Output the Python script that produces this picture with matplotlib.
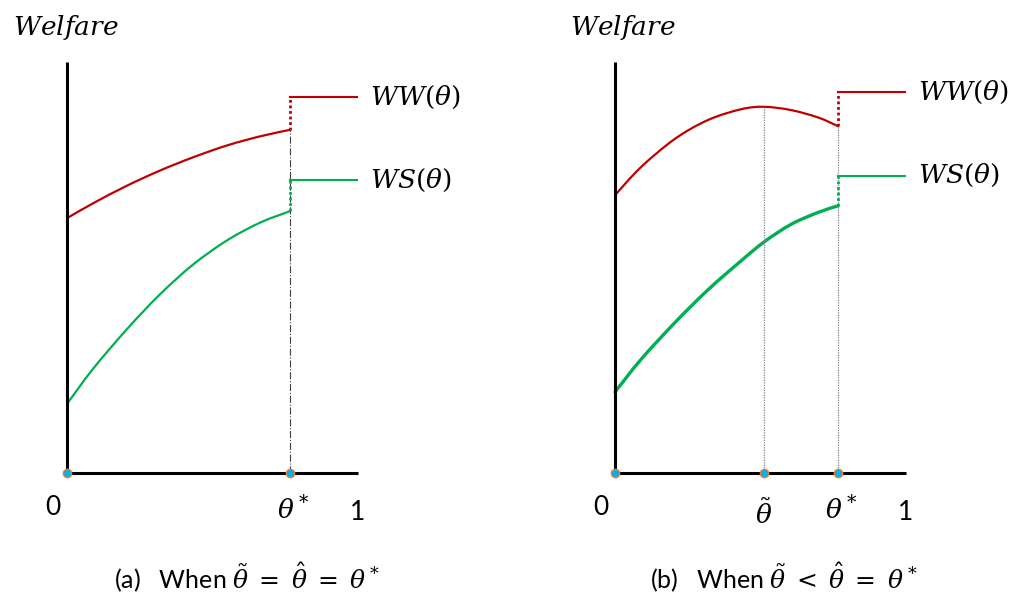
import matplotlib

matplotlib.use("Agg")
import matplotlib.pyplot as plt
from matplotlib.path import Path
from matplotlib.patches import PathPatch

plt.rcParams["font.family"] = ["Lato", "DejaVu Sans"]
plt.rcParams["mathtext.fontset"] = "dejavuserif"

# panel (a): theta_tilde = theta_hat = theta*
a_theta = [0.0, 0.089, 0.206, 0.320, 0.433, 0.550, 0.663, 0.766]
a_ww = [0.620, 0.656, 0.699, 0.736, 0.768, 0.797, 0.819, 0.835]
a_ws = [0.168, 0.253, 0.350, 0.435, 0.507, 0.566, 0.609, 0.637]
a_star = 0.766
a_ww_jump = 0.915
a_ws_jump = 0.713

# panel (b): theta_tilde < theta_hat = theta*
b_theta = [0.0, 0.089, 0.206, 0.320, 0.433, 0.512, 0.605, 0.698, 0.766]
b_ww = [0.676, 0.744, 0.813, 0.859, 0.885, 0.891, 0.883, 0.865, 0.844]
b_ws = [0.197, 0.276, 0.366, 0.446, 0.516, 0.562, 0.605, 0.634, 0.650]
b_tilde = 0.512
b_star = 0.766
b_ww_jump = 0.927
b_ws_jump = 0.723

RED = "#C00000"
GREEN = "#00B050"
DOT_FACE = "#00B0F0"
DOT_EDGE = "#ED7D31"

W, H = 1015, 594
fig = plt.figure(figsize=(W / 100, H / 100), dpi=100)


def make_axes(left_px):
    ax = fig.add_axes([left_px / W, 121 / H, 291 / W, 411 / H])
    ax.set_xlim(0, 1)
    ax.set_ylim(0, 1)
    ax.axis("off")
    return ax


def smooth_curve(ax, xs, ys, color, lw):
    # bezier segments through the read points (catmull-rom tangents)
    pts = list(zip(xs, ys))
    verts = [pts[0]]
    codes = [Path.MOVETO]
    n = len(pts)
    for i in range(n - 1):
        p0 = pts[i - 1] if i > 0 else pts[i]
        p1, p2 = pts[i], pts[i + 1]
        p3 = pts[i + 2] if i + 2 < n else pts[i + 1]
        c1 = (p1[0] + (p2[0] - p0[0]) / 6, p1[1] + (p2[1] - p0[1]) / 6)
        c2 = (p2[0] - (p3[0] - p1[0]) / 6, p2[1] - (p3[1] - p1[1]) / 6)
        verts += [c1, c2, p2]
        codes += [Path.CURVE4] * 3
    ax.add_patch(PathPatch(Path(verts, codes), fill=False, edgecolor=color, lw=lw,
                           clip_on=False, capstyle="round"))


def frame(ax, welfare_x):
    ax.plot([0, 0], [0, 1.0], color="black", lw=2.2, clip_on=False, solid_capstyle="butt")
    ax.plot([0, 1], [0, 0], color="black", lw=2.2, clip_on=False, solid_capstyle="butt")
    ax.text(welfare_x, 1.085, r"$Welfare$", fontsize=19, ha="left", va="center")
    ax.text(-0.05, -0.085, "0", fontsize=19, ha="center", va="center")
    ax.text(1.0, -0.095, "1", fontsize=19, ha="center", va="center")


def jumps(ax, star, ww_end, ws_end, ww_jump, ws_jump):
    ax.plot([star, star], [ww_end, ww_jump], color=RED, lw=2, ls=(0, (1, 1)), clip_on=False)
    ax.plot([star, star], [ws_end, ws_jump], color=GREEN, lw=2, ls=(0, (1, 1)), clip_on=False)
    ax.plot([star, 0.995], [ww_jump, ww_jump], color=RED, lw=1.5, clip_on=False)
    ax.plot([star, 0.995], [ws_jump, ws_jump], color=GREEN, lw=1.5, clip_on=False)
    ax.text(1.04, ww_jump, r"$WW(\theta)$", fontsize=19, ha="left", va="center")
    ax.text(1.04, ws_jump, r"$WS(\theta)$", fontsize=19, ha="left", va="center")


def dots(ax, xs):
    ax.plot(xs, [0] * len(xs), "o", ms=6, mfc=DOT_FACE, mec=DOT_EDGE, mew=1,
            clip_on=False, zorder=5)


# ---- panel (a)
ax = make_axes(67)
frame(ax, -0.186)
ax.plot([a_star, a_star], [0, a_ww[-1]], color="#404040", lw=0.8, ls="-.", clip_on=False)
smooth_curve(ax, a_theta, a_ww, RED, 1.6)
smooth_curve(ax, a_theta, a_ws, GREEN, 1.6)
jumps(ax, a_star, a_ww[-1], a_ws[-1], a_ww_jump, a_ws_jump)
dots(ax, [0, a_star])
ax.text(a_star + 0.01, -0.09, r"$\theta^*$", fontsize=19, ha="center", va="center")
ax.text(0.62, -0.255, r"(a)   When $\tilde{\theta}\;=\;\hat{\theta}\;=\;\theta^*$",
        fontsize=18, ha="center", va="center")

# ---- panel (b)
ax = make_axes(615)
frame(ax, -0.155)
ax.plot([b_tilde, b_tilde], [0, max(b_ww)], color="#808080", lw=0.9, ls=(0, (1, 1)), clip_on=False)
ax.plot([b_star, b_star], [0, b_ww[-1]], color="#808080", lw=0.9, ls=(0, (1, 1)), clip_on=False)
smooth_curve(ax, b_theta, b_ww, RED, 1.6)
smooth_curve(ax, b_theta, b_ws, GREEN, 2.4)
jumps(ax, b_star, b_ww[-1], b_ws[-1], b_ww_jump, b_ws_jump)
dots(ax, [0, b_tilde, b_star])
ax.text(b_tilde, -0.1, r"$\tilde{\theta}$", fontsize=19, ha="center", va="center")
ax.text(b_star + 0.01, -0.09, r"$\theta^*$", fontsize=19, ha="center", va="center")
ax.text(0.58, -0.255, r"(b)   When $\tilde{\theta}\;<\;\hat{\theta}\;=\;\theta^*$",
        fontsize=18, ha="center", va="center")

fig.savefig("out.png", dpi=100)
